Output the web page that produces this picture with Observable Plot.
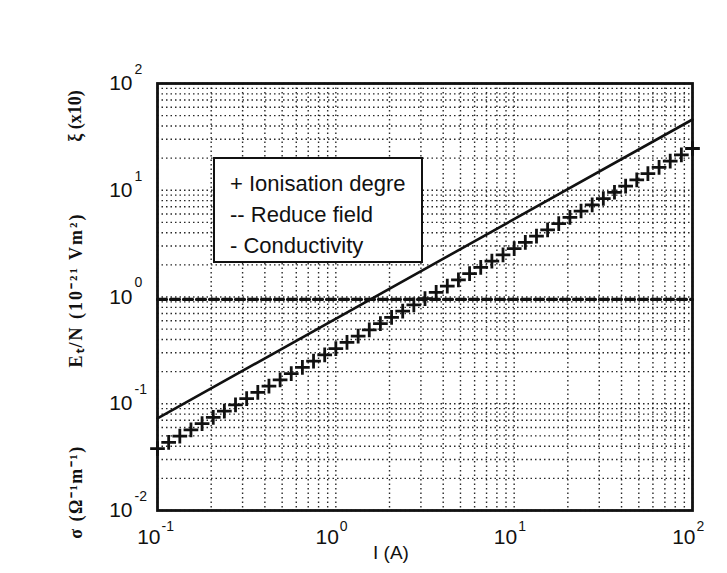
<!DOCTYPE html>
<html>
<head>
<meta charset="utf-8">
<script src="https://cdn.jsdelivr.net/npm/d3@7"></script>
<script src="https://cdn.jsdelivr.net/npm/@observablehq/plot@0.6"></script>
<style>
  html, body { margin: 0; padding: 0; background: #fff; }
  #wrap { position: relative; width: 727px; height: 573px; overflow: hidden; }
  .ylab { position: absolute; font-family: "Liberation Serif", serif; font-weight: bold; font-size: 18px; color: #111; white-space: nowrap; transform: translate(-50%, -50%) rotate(-90deg); }
  #legend { position: absolute; left: 213px; top: 157px; width: 206px; height: 102px; background: #fff; border: 2px solid #111; font-family: "Liberation Sans", Arial, sans-serif; font-size: 22px; color: #111; }
  #legend div { position: absolute; left: 15px; white-space: nowrap; }
</style>
</head>
<body>
<div id="wrap"></div>
<script>
// Current I (A)
const ionX = [0.1, 0.1155, 0.1334, 0.154, 0.1778, 0.2054, 0.2371, 0.2738, 0.3162, 0.3652, 0.4217, 0.487, 0.5623, 0.6494, 0.7499, 0.866,
  1, 1.155, 1.334, 1.54, 1.778, 2.054, 2.371, 2.738, 3.162, 3.652, 4.217, 4.87, 5.623, 6.494, 7.499, 8.66,
  10, 11.55, 13.34, 15.4, 17.78, 20.54, 23.71, 27.38, 31.62, 36.52, 42.17, 48.7, 56.23, 64.94, 74.99, 86.6, 100];
// Ionisation degree (x10)
const ionY = [0.038, 0.0435, 0.0498, 0.057, 0.0652, 0.0746, 0.0854, 0.0977, 0.1118, 0.1279, 0.1464, 0.1675, 0.1917, 0.2194, 0.2511, 0.2873,
  0.3289, 0.3763, 0.4306, 0.4928, 0.564, 0.6454, 0.7386, 0.8452, 0.967, 1.107, 1.266, 1.449, 1.658, 1.897, 2.171, 2.485,
  2.844, 3.254, 3.724, 4.262, 4.877, 5.581, 6.388, 7.309, 8.365, 9.572, 10.95, 12.53, 14.34, 16.41, 18.78, 21.49, 24.6];
// Reduced field
const fieldX = [0.1, 100];
const fieldY = [0.95, 0.95];
// Conductivity
const condX = [0.1, 100];
const condY = [0.073, 46];

const gridX = [0.1,0.2,0.3,0.4,0.5,0.6,0.7,0.8,0.9,1,2,3,4,5,6,7,8,9,10,20,30,40,50,60,70,80,90,100];
const gridY = [0.01,0.02,0.03,0.04,0.05,0.06,0.07,0.08,0.09,0.1,0.2,0.3,0.4,0.5,0.6,0.7,0.8,0.9,1,2,3,4,5,6,7,8,9,10,20,30,40,50,60,70,80,90,100];
const xTicks = [0.1, 1, 10, 100];
const xTickExp = ["-1", "0", "1", "2"];
const yTicks = [0.01, 0.1, 1, 10, 100];
const yTickExp = ["-2", "-1", "0", "1", "2"];

const ion = ionX.map((x, i) => ({x, y: ionY[i]}));
const field = fieldX.map((x, i) => ({x, y: fieldY[i]}));
const cond = condX.map((x, i) => ({x, y: condY[i]}));
const xt = xTicks.map((v, i) => ({v, e: xTickExp[i]}));
const yt = yTicks.map((v, i) => ({v, e: yTickExp[i]}));

const font = "Liberation Sans, Arial, sans-serif";

const chart = Plot.plot({
  width: 727,
  height: 573,
  marginLeft: 157,
  marginRight: 35,
  marginTop: 83,
  marginBottom: 63,
  style: {background: "white", fontFamily: font},
  x: {type: "log", domain: [0.1, 100], axis: null},
  y: {type: "log", domain: [0.01, 100], axis: null},
  marks: [
    Plot.ruleX(gridX, {stroke: "#111", strokeWidth: 1.4, strokeDasharray: "1.5,3", strokeOpacity: 0.9}),
    Plot.ruleY(gridY, {stroke: "#111", strokeWidth: 1.4, strokeDasharray: "1.5,3", strokeOpacity: 0.9}),
    Plot.line(cond, {x: "x", y: "y", stroke: "#111", strokeWidth: 2.6}),
    Plot.line(field, {x: "x", y: "y", stroke: "#111", strokeWidth: 3.2, strokeDasharray: "9,4"}),
    Plot.dot(ion, {x: "x", y: "y", symbol: "plus", r: 4.8, stroke: "#111", strokeWidth: 2.8}),
    Plot.frame({stroke: "#111", strokeWidth: 2.8}),
    Plot.text(xt, {x: "v", text: () => "10", frameAnchor: "bottom", dy: 33, dx: 3, textAnchor: "end", fontSize: 21, fill: "#111", fontFamily: font}),
    Plot.text(xt, {x: "v", text: "e", frameAnchor: "bottom", dy: 20, dx: 4, textAnchor: "start", fontSize: 14, fill: "#111", fontFamily: font}),
    Plot.text(yt, {y: "v", text: () => "10", frameAnchor: "left", dx: -25, textAnchor: "end", fontSize: 21, fill: "#111", fontFamily: font}),
    Plot.text(yt, {y: "v", text: "e", frameAnchor: "left", dx: -23, dy: -14, textAnchor: "start", fontSize: 14, fill: "#111", fontFamily: font}),
    Plot.text(["I (A)"], {frameAnchor: "bottom", dy: 48, dx: -34, fontSize: 19, fill: "#111", fontFamily: font})
  ]
});

const wrap = document.getElementById("wrap");
wrap.appendChild(chart);

const labels = [
  {t: "ξ (x10)", y: 116, ls: 0},
  {t: "E\u209C/N (10\u207B\u00B2\u00B9 Vm\u00B2)", y: 290, ls: 2},
  {t: "σ (Ω\u207B\u00B9m\u207B\u00B9)", y: 492, ls: 1.5}
];
for (const l of labels) {
  const d = document.createElement("div");
  d.className = "ylab";
  d.textContent = l.t;
  d.style.left = "75px";
  d.style.top = l.y + "px";
  d.style.letterSpacing = l.ls + "px";
  wrap.appendChild(d);
}

const legendItems = ["+ Ionisation degre", "-- Reduce field", "- Conductivity"];
const lg = document.createElement("div");
lg.id = "legend";
legendItems.forEach((t, i) => {
  const d = document.createElement("div");
  d.textContent = t;
  d.style.top = (12 + i * 31) + "px";
  lg.appendChild(d);
});
wrap.appendChild(lg);
</script>
</body>
</html>
